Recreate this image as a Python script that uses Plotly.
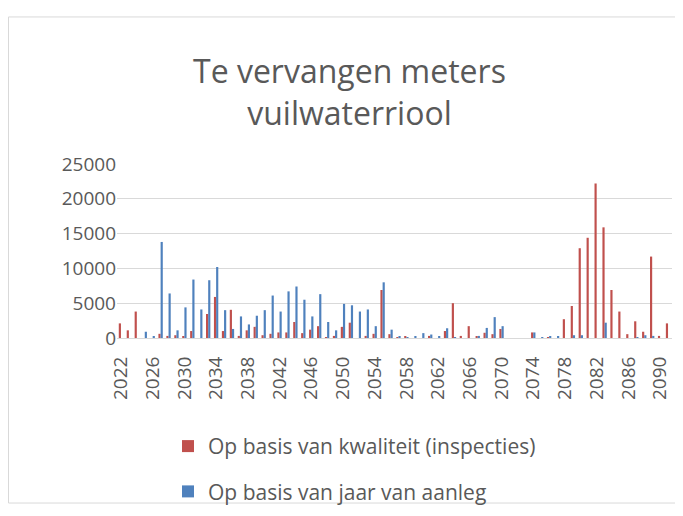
import plotly.graph_objects as go

years = list(range(2022, 2092))

kwaliteit = [2100, 1100, 3800, 0, 0, 600, 300, 400, 200, 1000,
             0, 3450, 5900, 1000, 4050, 300, 1100, 1600, 400, 600,
             800, 800, 2300, 700, 1200, 1700, 100, 300, 1600, 2200,
             0, 300, 600, 6900, 550, 50, 150, 0, 0, 300,
             0, 1000, 5000, 300, 1700, 150, 750, 550, 1300, 0,
             0, 0, 800, 0, 30, 0, 2700, 4600, 12900, 14400,
             22200, 15900, 6900, 3800, 550, 2400, 900, 11700, 300, 2100]

aanleg = [0, 0, 0, 900, 200, 13800, 6400, 1100, 4400, 8400,
          4100, 8300, 10200, 4000, 1300, 3100, 1950, 3200, 4000, 6100,
          3800, 6700, 7400, 5500, 3100, 6300, 2300, 1100, 4900, 4700,
          3800, 4100, 1700, 8000, 1200, 150, 50, 150, 700, 500,
          150, 1400, 50, 0, 0, 300, 1450, 3000, 1700, 0,
          0, 0, 800, 50, 150, 150, 0, 400, 400, 0,
          0, 2200, 0, 0, 0, 50, 400, 300, 0, 0]

title_text = "Te vervangen meters<br>vuilwaterriool"
names = ["Op basis van kwaliteit (inspecties)", "Op basis van jaar van aanleg"]
colors = ["#C0504D", "#4F81BD"]

FONT = "'Open Sans', sans-serif"
TXT = "#595959"

fig = go.Figure()
fig.add_trace(go.Bar(x=years, y=kwaliteit, name=names[0], marker_color=colors[0],
                     marker_line_width=0, legendgroup="a"))
fig.add_trace(go.Bar(x=years, y=aanleg, name=names[1], marker_color=colors[1],
                     marker_line_width=0, legendgroup="b"))

W, H = 683, 516
L, R, T, B = 109, 19, 156, 176
pw, ph = W - L - R, H - T - B


def py(p):
    """pixel-from-top -> paper y"""
    return (H - B - p) / ph


def px(p):
    return (p - L) / pw


fig.update_layout(
    width=W, height=H,
    margin=dict(l=L, r=R, t=T, b=B),
    paper_bgcolor="white", plot_bgcolor="white",
    barmode="group", bargap=0.45, bargroupgap=0,
    font=dict(family=FONT, color=TXT),
    xaxis=dict(range=[2021.5, 2091.5], tickmode="linear", tick0=2022, dtick=4,
               tickangle=-90, tickfont=dict(size=19, color=TXT), showgrid=False,
               showline=True, linecolor="#d9d9d9", linewidth=1, ticks="", zeroline=False,
               ticklabelstandoff=10),
    yaxis=dict(range=[0, 25000], tickmode="linear", tick0=0, dtick=5000, tickformat="d",
               tickfont=dict(size=19, color=TXT), showgrid=True, gridcolor="#d9d9d9",
               gridwidth=1, zeroline=False, showline=False, ticks=""),
    legend=dict(orientation="v", x=px(160), xanchor="left",
                y=py(433), yanchor="top", bgcolor="rgba(0,0,0,0)",
                font=dict(family=FONT, size=21, color=TXT),
                tracegroupgap=15, itemwidth=30),
    annotations=[dict(text=title_text, xref="paper", yref="paper",
                      x=px(W / 2), y=py(79), xanchor="center", yanchor="middle",
                      showarrow=False, align="center",
                      font=dict(family=FONT, size=32, color=TXT))],
    shapes=[dict(type="rect", xref="paper", yref="paper",
                 x0=px(0.5), x1=px(W - 1.5),
                 y0=py(H - 1.5), y1=py(0.5),
                 line=dict(color="#d9d9d9", width=1), layer="below")],
)

fig.write_html("out.html")
